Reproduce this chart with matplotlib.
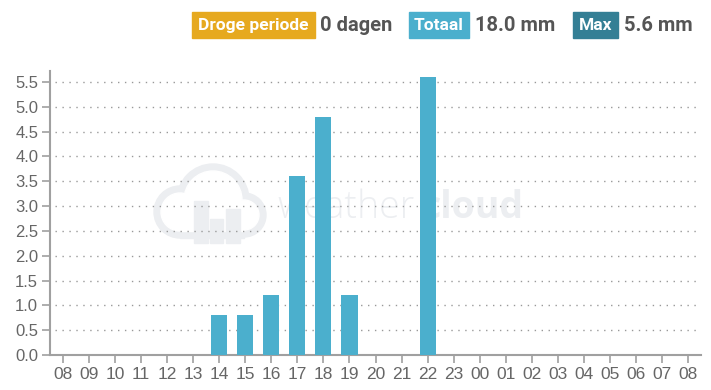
import matplotlib.pyplot as plt
from matplotlib.patches import Rectangle, Circle

# uren (x-as) en neerslag per uur in mm
hours = ['08', '09', '10', '11', '12', '13', '14', '15', '16', '17', '18', '19', '20',
         '21', '22', '23', '00', '01', '02', '03', '04', '05', '06', '07', '08']
rain = [0, 0, 0, 0, 0, 0, 0.8, 0.8, 1.2, 3.6, 4.8, 1.2, 0, 0, 5.6, 0, 0, 0, 0, 0, 0, 0, 0, 0, 0]
y_ticks = [0.0, 0.5, 1.0, 1.5, 2.0, 2.5, 3.0, 3.5, 4.0, 4.5, 5.0, 5.5]

dry_days = 0
total = sum(rain)
rain_max = max(rain)

plt.rcParams['font.family'] = ['Roboto', 'DejaVu Sans']

W, H = 711, 390
fig = plt.figure(figsize=(W / 100, H / 100), dpi=100)

# achtergrond-as in pixels voor het watermerk
bg = fig.add_axes([0, 0, 1, 1], zorder=0)
bg.set_xlim(0, W)
bg.set_ylim(H, 0)
bg.axis('off')
wm = '#eceef1'
lobes = [(213, 200, 36), (180, 212, 26), (244, 215, 22)]
t = 7
for cx, cy, r in lobes:
    bg.add_patch(Circle((cx, cy), r, color=wm))
bg.add_patch(Rectangle((180, 212), 64, 26, color=wm))
for cx, cy, r in lobes:
    bg.add_patch(Circle((cx, cy), r - t, color='white'))
bg.add_patch(Rectangle((180, 205), 64, 26, color='white'))
for x0, x1, y0 in [(194, 208, 201), (210, 223, 219), (226, 240, 209)]:
    bg.add_patch(Rectangle((x0, y0), x1 - x0, 243 - y0, color=wm))
bg.text(277, 218, 'weather', fontsize=27, color=wm, ha='left', va='baseline',
        family='Open Sans', fontweight='light')
bg.text(421, 218, 'cloud', fontsize=27, color=wm, ha='left', va='baseline',
        family='Open Sans', fontweight='bold')

# assen in pixels
left, right, top, bottom = 50, 701, 71, 355
ax = fig.add_axes([left / W, 1 - bottom / H, (right - left) / W, (bottom - top) / H], zorder=1)
ax.patch.set_alpha(0)

x = range(len(hours))
ax.bar(x, rain, width=0.62, color='#4bafcd', zorder=3)

ax.set_xlim(-0.5, len(hours) - 0.5)
ax.set_ylim(0, 5.72)
ax.set_xticks(list(x))
ax.set_xticklabels(hours, family='Liberation Sans', fontsize=12.5)
ax.set_yticks(y_ticks)
ax.set_yticklabels(['%.1f' % v for v in y_ticks], family='Liberation Sans', fontsize=12)

for s in ['top', 'right']:
    ax.spines[s].set_visible(False)
for s in ['left', 'bottom']:
    ax.spines[s].set_color('#a0a0a0')
    ax.spines[s].set_linewidth(1.5)

ax.tick_params(axis='both', colors='#a0a0a0', labelcolor='#666666', width=1.2, length=5.5)
ax.tick_params(axis='y', pad=3)
ax.tick_params(axis='x', pad=3)

# gestippelde rasterlijnen
for v in y_ticks[1:]:
    ax.plot([-0.3, len(hours) - 0.5], [v, v], linestyle=(0, (1, 4)), color='#999999',
            linewidth=1, zorder=1)

# kop met badges
def badge(x0, x1, color, label):
    fig.patches.append(Rectangle((x0 / W, 1 - 38 / H), (x1 - x0) / W, 26 / H,
                                 transform=fig.transFigure, color=color))
    fig.text((x0 + x1) / 2 / W, 1 - 25.5 / H, label, ha='center', va='center',
             color='white', fontsize=12.5, fontweight='bold')

def value(x0, label):
    fig.text(x0 / W, 1 - 25.5 / H, label, ha='left', va='center',
             color='#555555', fontsize=14.5, fontweight='bold')

badge(192, 315, '#e6a91f', 'Droge periode')
value(320, '%d dagen' % dry_days)
badge(409, 469, '#4bafcd', 'Totaal')
value(475, '%.1f mm' % total)
badge(573, 618, '#347f95', 'Max')
value(624, '%.1f mm' % rain_max)

fig.savefig('out.png', dpi=100)
